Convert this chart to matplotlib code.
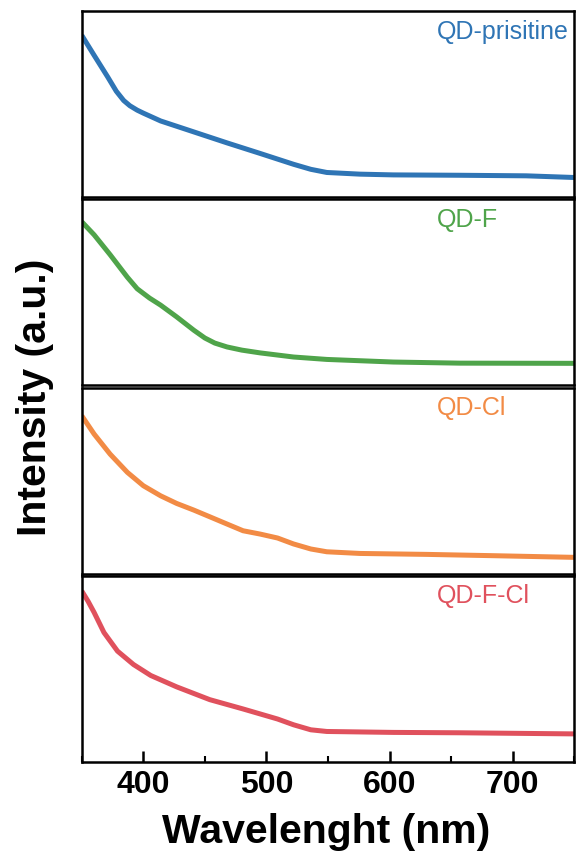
import matplotlib.pyplot as plt
from matplotlib.ticker import MultipleLocator

plt.rcParams['font.family'] = ['Liberation Sans', 'DejaVu Sans']

# wavelength (nm) and intensity (a.u.)
wl_pristine = [350, 360, 371, 378, 384, 389, 395, 400, 414, 441, 468, 495, 522, 536, 549, 576, 603, 657, 711, 750]
int_pristine = [0.87, 0.763, 0.647, 0.57, 0.52, 0.492, 0.468, 0.452, 0.41, 0.351, 0.292, 0.235, 0.177, 0.15,
                0.133, 0.124, 0.12, 0.118, 0.115, 0.106]

wl_f = [350, 360, 373, 387, 395, 405, 414, 427, 441, 450, 458, 468, 480, 495, 522, 549, 603, 657, 750]
int_f = [0.88, 0.81, 0.703, 0.582, 0.52, 0.47, 0.432, 0.369, 0.297, 0.255, 0.228, 0.207, 0.19, 0.175,
         0.153, 0.14, 0.126, 0.12, 0.119]

wl_cl = [350, 355, 360, 373, 387, 400, 414, 427, 441, 454, 468, 481, 495, 509, 522, 536, 549, 576, 630, 684, 750]
int_cl = [0.849, 0.8, 0.751, 0.643, 0.545, 0.473, 0.419, 0.378, 0.342, 0.306, 0.267, 0.231, 0.213, 0.192,
          0.16, 0.133, 0.118, 0.109, 0.104, 0.097, 0.088]

wl_fcl = [350, 355, 360, 368, 379, 392, 406, 427, 454, 481, 509, 522, 536, 549, 603, 657, 750]
int_fcl = [0.919, 0.865, 0.804, 0.696, 0.596, 0.524, 0.465, 0.404, 0.335, 0.285, 0.231, 0.2, 0.173, 0.164,
           0.159, 0.157, 0.151]

wavelengths = [wl_pristine, wl_f, wl_cl, wl_fcl]
intensities = [int_pristine, int_f, int_cl, int_fcl]
names = ['QD-prisitine', 'QD-F', 'QD-Cl', 'QD-F-Cl']
colours = ['#2f75b5', '#4fa44a', '#f28b45', '#e0515d']

fig, axes = plt.subplots(4, 1, figsize=(5.76, 8.61), dpi=100, sharex=True)
fig.subplots_adjust(left=0.142, right=0.997, top=0.987, bottom=0.115, hspace=0.012)

for ax, x, y, name, c in zip(axes, wavelengths, intensities, names, colours):
    ax.plot(x, y, color=c, lw=3.6, solid_capstyle='butt', solid_joinstyle='round')
    ax.set_xlim(350, 750)
    ax.set_ylim(0, 1)
    ax.set_yticks([])
    for s in ax.spines.values():
        s.set_linewidth(1.8)
    ax.tick_params(axis='x', which='both', bottom=False, top=False)
    ax.text(0.722, 0.89, name, color=c, fontsize=18, transform=ax.transAxes,
            ha='left', va='center')

bottom = axes[-1]
bottom.xaxis.set_major_locator(MultipleLocator(100))
bottom.xaxis.set_minor_locator(MultipleLocator(50))
bottom.tick_params(axis='x', which='major', bottom=True, direction='in', length=8, width=1.8,
                   labelsize=23, pad=6)
bottom.tick_params(axis='x', which='minor', bottom=True, direction='in', length=4, width=1.5)
for lbl in bottom.get_xticklabels():
    lbl.set_fontweight('bold')

fig.text(0.567, 0.034, 'Wavelenght (nm)', ha='center', va='center', fontsize=29.5, fontweight='bold')
fig.text(0.061, 0.539, 'Intensity (a.u.)', ha='center', va='center', rotation=90,
         fontsize=29.5, fontweight='bold')

fig.savefig('out.png', dpi=100)
